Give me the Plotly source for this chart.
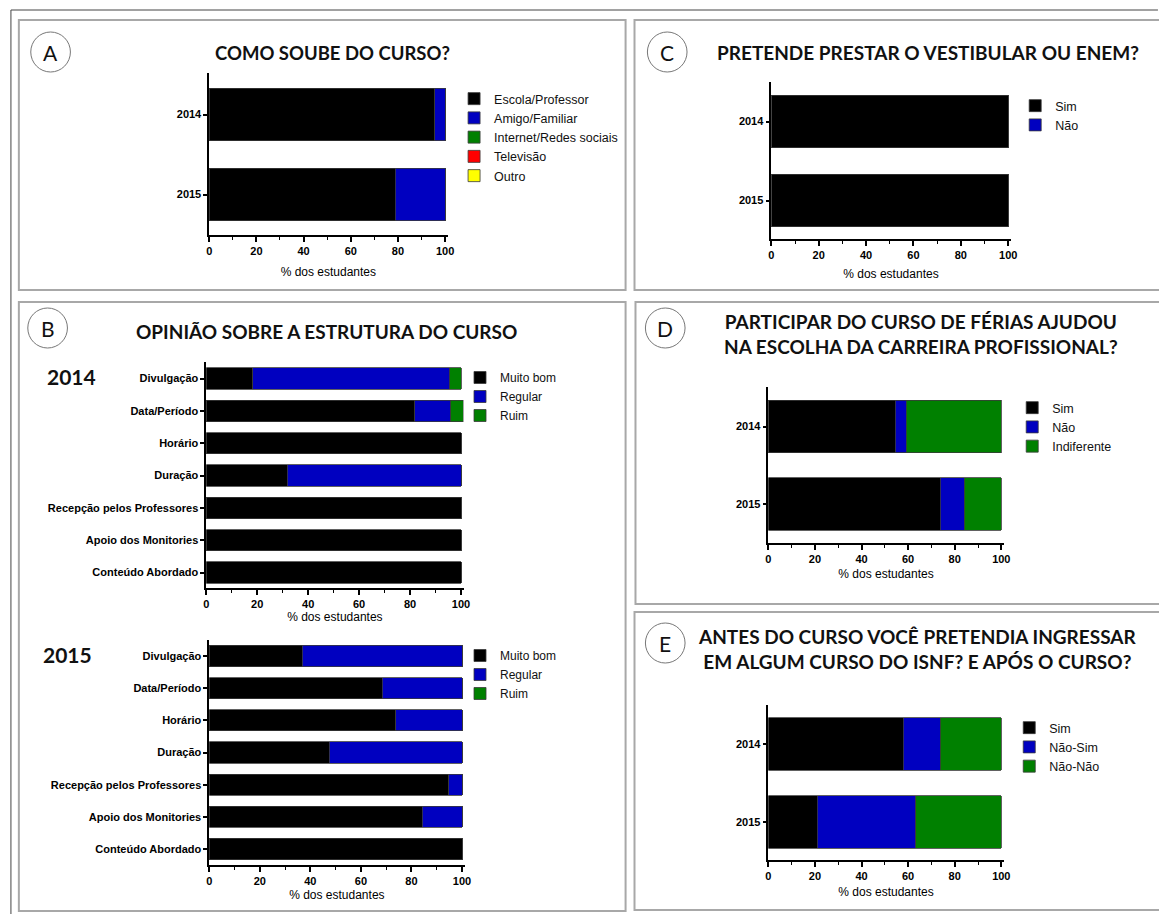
import plotly.graph_objects as go

W, H = 1159, 914

# ---------------- data ----------------
years = ["2014", "2015"]

# Panel A - Como soube do curso?
a_names = ["Escola/Professor", "Amigo/Familiar", "Internet/Redes sociais", "Televisão", "Outro"]
a_escola = [95.5, 78.9]
a_amigo = [4.5, 21.1]
a_internet = [0, 0]
a_televisao = [0, 0]
a_outro = [0, 0]

# Panel B - Opinião sobre a estrutura do curso
b_items = ["Divulgação", "Data/Período", "Horário", "Duração",
           "Recepção pelos Professores", "Apoio dos Monitories", "Conteúdo Abordado"]
b_names = ["Muito bom", "Regular", "Ruim"]
b14_muito_bom = [18.2, 81.8, 100, 31.8, 100, 100, 100]
b14_regular = [77.3, 14.1, 0, 68.2, 0, 0, 0]
b14_ruim = [4.5, 5.0, 0, 0, 0, 0, 0]
b15_muito_bom = [36.8, 68.4, 73.7, 47.4, 94.7, 84.2, 100]
b15_regular = [63.2, 31.6, 26.3, 52.6, 5.3, 15.8, 0]
b15_ruim = [0, 0, 0, 0, 0, 0, 0]

# Panel C - Pretende prestar o vestibular ou ENEM?
c_names = ["Sim", "Não"]
c_sim = [100, 100]
c_nao = [0, 0]

# Panel D - Curso de férias ajudou na escolha da carreira?
d_names = ["Sim", "Não", "Indiferente"]
d_sim = [54.5, 73.7]
d_nao = [4.6, 10.5]
d_indiferente = [40.9, 15.8]

# Panel E - Ingressar em algum curso do ISNF antes / após o curso
e_names = ["Sim", "Não-Sim", "Não-Não"]
e_sim = [57.9, 21.1]
e_nao_sim = [15.8, 42.1]
e_nao_nao = [26.3, 36.8]

x_ticks = [0, 20, 40, 60, 80, 100]
x_title = "% dos estudantes"

# ---------------- style ----------------
BLACK = "#000000"
BLUE = "#0000C0"
GREEN = "#008000"
RED = "#FF0000"
YELLOW = "#FFFF00"
TXT = "Liberation Sans, Arial, sans-serif"
HEAD = "Lato, Open Sans, sans-serif"


def px(x):
    return x / W


def py(y):
    return 1 - y / H


fig = go.Figure()

# panel geometry (pixels): x at 0, x at 100, y-axis top, x-axis line, first/last category centre
panels = {
    "A": dict(ax="", x0=208, x100=446, top=73, bot=235, c0=114.5, c1=194.5, n=2, w=0.66,
              leg="legend", so=12),
    "B14": dict(ax="2", x0=205, x100=462, top=362, bot=588, c0=378.5, c1=572.5, n=7, w=0.66,
                leg="legend2", so=4),
    "B15": dict(ax="3", x0=208, x100=463, top=640, bot=865, c0=656, c1=849, n=7, w=0.66,
                leg="legend3", so=5),
    "C": dict(ax="4", x0=775, x100=1014, top=82, bot=239, c0=121.5, c1=200.5, n=2, w=0.67,
              leg="legend4", so=10),
    "D": dict(ax="5", x0=772, x100=1007, top=387, bot=543, c0=426.5, c1=504, n=2, w=0.68,
              leg="legend5", so=6),
    "E": dict(ax="6", x0=772, x100=1007, top=705, bot=860, c0=744, c1=822, n=2, w=0.67,
              leg="legend6", so=7),
}

XMAX = 101.0


def add_bars(panel, cats, series, names, colors):
    p = panels[panel]
    for vals, name, col in zip(series, names, colors):
        fig.add_trace(go.Bar(
            x=vals, y=cats, name=name, orientation="h",
            marker=dict(color=col, line=dict(color="#3a3a3a", width=0.8)),
            width=p["w"], xaxis="x" + p["ax"], yaxis="y" + p["ax"],
            legend=p["leg"], hoverinfo="x+y+name",
        ))


add_bars("A", years, [a_escola, a_amigo, a_internet, a_televisao, a_outro], a_names,
         [BLACK, BLUE, GREEN, RED, YELLOW])
add_bars("B14", b_items, [b14_muito_bom, b14_regular, b14_ruim], b_names, [BLACK, BLUE, GREEN])
add_bars("B15", b_items, [b15_muito_bom, b15_regular, b15_ruim], b_names, [BLACK, BLUE, GREEN])
add_bars("C", years, [c_sim, c_nao], c_names, [BLACK, BLUE])
add_bars("D", years, [d_sim, d_nao, d_indiferente], d_names, [BLACK, BLUE, GREEN])
add_bars("E", years, [e_sim, e_nao_sim, e_nao_nao], e_names, [BLACK, BLUE, GREEN])

layout = dict(
    width=W, height=H, margin=dict(l=0, r=0, t=0, b=0),
    paper_bgcolor="white", plot_bgcolor="rgba(0,0,0,0)",
    barmode="stack", showlegend=True,
    font=dict(family=TXT, color="black"),
)

for key, p in panels.items():
    ax = p["ax"]
    unit = (p["x100"] - p["x0"]) / 100.0
    xdom = [px(p["x0"]), px(p["x0"] + unit * XMAX)]
    step = (p["c1"] - p["c0"]) / (p["n"] - 1)
    top_u = (p["c0"] - p["top"]) / step
    bot_u = (p["bot"] - p["c1"]) / step
    ydom = [py(p["bot"]), py(p["top"])]
    layout["xaxis" + ax] = dict(
        domain=xdom, range=[0, XMAX], anchor="y" + ax,
        tickvals=x_ticks, ticks="outside", ticklen=5, tickwidth=1.5, tickcolor="black",
        minor=dict(dtick=10, tick0=0, ticks="outside", ticklen=3, tickwidth=1, tickcolor="black"),
        showline=True, linecolor="black", linewidth=1.5, showgrid=False, zeroline=False,
        tickfont=dict(family=TXT, size=11, weight="bold"),
        title=dict(text=x_title, font=dict(family=TXT, size=12), standoff=p["so"]),
        fixedrange=True,
    )
    layout["yaxis" + ax] = dict(
        domain=ydom, anchor="x" + ax, type="category",
        range=[p["n"] - 1 + bot_u, -top_u],
        ticks="outside", ticklen=4, tickwidth=1.5, tickcolor="black",
        showline=True, linecolor="black", linewidth=1.5, showgrid=False, zeroline=False,
        tickfont=dict(family=TXT, size=11, weight="bold"),
        fixedrange=True,
    )

# legends (x = left edge, y = top edge, pixels, font size)
legend_pos = {
    "legend": (455, 84, 12.5),
    "legend2": (461, 363, 12),
    "legend3": (461, 641, 12),
    "legend4": (1021, 91, 12.5),
    "legend5": (1018, 393, 12.5),
    "legend6": (1015, 713, 12.5),
}
for name, (lx, ly, fs) in legend_pos.items():
    layout[name] = dict(
        x=px(lx), y=py(ly), xanchor="left", yanchor="top",
        bgcolor="rgba(0,0,0,0)", borderwidth=0, traceorder="normal",
        font=dict(family=TXT, size=fs, color="#111"),
        itemclick=False, itemdoubleclick=False,
    )

fig.update_layout(**layout)

# ---------------- frames, circles, titles ----------------
shapes = []
# outer frame
shapes.append(dict(type="line", xref="paper", yref="paper", x0=px(8), x1=px(1165), y0=py(10), y1=py(10),
                   line=dict(color="#444", width=1)))
shapes.append(dict(type="line", xref="paper", yref="paper", x0=px(8), x1=px(8), y0=py(10), y1=py(920),
                   line=dict(color="#444", width=1)))
# panel boxes
boxes = [(16, 20, 628, 290), (637, 20, 1170, 290), (16, 302, 628, 911),
         (638, 302, 1170, 604), (637, 612, 1170, 910)]
for (x0, y0, x1, y1) in boxes:
    shapes.append(dict(type="rect", xref="paper", yref="paper", x0=px(x0), x1=px(x1), y0=py(y1), y1=py(y0),
                       line=dict(color="#a8a8a8", width=2)))

letters = [("A", 48, 52), ("B", 45, 328), ("C", 670, 52), ("D", 668, 328), ("E", 668, 643)]
annotations = []
R = 20
for letter, cx, cy in letters:
    shapes.append(dict(type="circle", xref="paper", yref="paper",
                       x0=px(cx - R), x1=px(cx + R), y0=py(cy + R), y1=py(cy - R),
                       line=dict(color="#777", width=1)))
    annotations.append(dict(text=letter, x=px(cx), y=py(cy), xref="paper", yref="paper",
                            showarrow=False, xanchor="center", yanchor="middle",
                            font=dict(family=HEAD, size=21, color="#111")))

titles = [
    ("COMO SOUBE DO CURSO?", 332, 53, 18.5),
    ("OPINIÃO SOBRE A ESTRUTURA DO CURSO", 326, 331, 19),
    ("PRETENDE PRESTAR O VESTIBULAR OU ENEM?", 933, 52, 19),
    ("PARTICIPAR DO CURSO DE FÉRIAS AJUDOU<br>NA ESCOLHA DA CARREIRA PROFISSIONAL?", 926, 334, 19),
    ("ANTES DO CURSO VOCÊ PRETENDIA INGRESSAR<br>EM ALGUM CURSO DO ISNF? E APÓS O CURSO?", 922, 649, 19),
]
for text, cx, cy, fs in titles:
    annotations.append(dict(text=text, x=px(cx), y=py(cy), xref="paper", yref="paper",
                            showarrow=False, xanchor="center", yanchor="middle", align="center",
                            font=dict(family=HEAD, size=fs, color="#111", weight="bold")))

for text, cx, cy in [("2014", 69, 376), ("2015", 65, 654)]:
    annotations.append(dict(text=text, x=px(cx), y=py(cy), xref="paper", yref="paper",
                            showarrow=False, xanchor="center", yanchor="middle",
                            font=dict(family=HEAD, size=21, color="#111", weight="bold")))

fig.update_layout(shapes=shapes, annotations=annotations)

fig.write_html("out.html", config={"displayModeBar": False},
               post_script="document.body.style.margin='0';document.body.style.overflow='hidden';")
